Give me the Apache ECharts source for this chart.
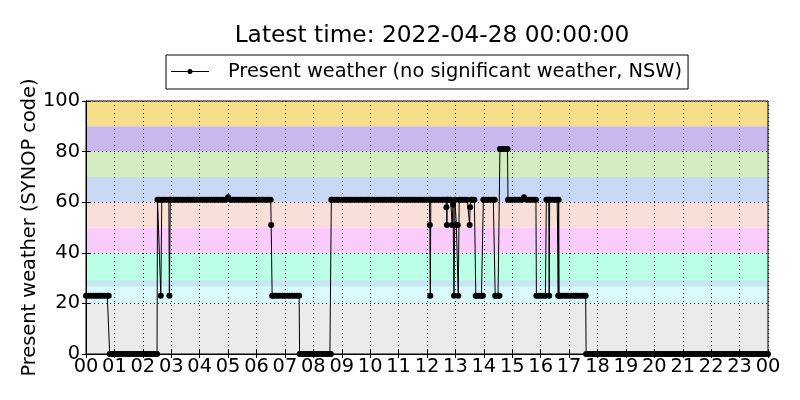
<!DOCTYPE html>
<html>
<head>
<meta charset="utf-8">
<script src="https://cdn.jsdelivr.net/npm/echarts@6/dist/echarts.min.js"></script>
<style>
html,body{margin:0;padding:0;background:#fff;}
#chart{width:800px;height:400px;}
</style>
</head>
<body>
<div id="chart"></div>
<script>
var titleText = "Latest time: 2022-04-28 00:00:00";
var seriesName = "Present weather (no significant weather, NSW)";
var yAxisName = "Present weather (SYNOP code)";
var yTicks = [0, 20, 40, 60, 80, 100];
var hourTicks = ["00","01","02","03","04","05","06","07","08","09","10","11","12","13","14","15","16","17","18","19","20","21","22","23","00"];

// SYNOP code bands [from, to]
var bandRanges = [[0,20],[20,26.6],[26.6,29.2],[29.2,40],[40,50],[50,60],[60,70],[70,80],[80,90],[90,100]];
var bandColors = ["#ebebeb","#d9f9fc","#c4eaf0","#bbffe6","#f9ccfc","#f8e0d8","#c9d8f5","#d3ecc0","#c9b8ee","#f7de8a"];

// present weather code read every 5 minutes (:00, :05, ... :55), one row per hour
var fiveMinuteCodes = [
/*00*/ [23,23,23,23,23,23,23,23,23,23,0,0],
/*01*/ [0,0,0,0,0,0,0,0,0,0,0,0],
/*02*/ [0,0,0,0,0,0,0,61,61,61,61,61],
/*03*/ [61,61,61,61,61,61,61,61,61,61,61,61],
/*04*/ [61,61,61,61,61,61,61,61,61,61,61,61],
/*05*/ [62,61,61,61,61,61,61,61,61,61,61,61],
/*06*/ [61,61,61,61,61,61,61,23,23,23,23,23],
/*07*/ [23,23,23,23,23,23,23,0,0,0,0,0],
/*08*/ [0,0,0,0,0,0,0,0,61,61,61,61],
/*09*/ [61,61,61,61,61,61,61,61,61,61,61,61],
/*10*/ [61,61,61,61,61,61,61,61,61,61,61,61],
/*11*/ [61,61,61,61,61,61,61,61,61,61,61,61],
/*12*/ [61,61,61,61,61,61,61,61,61,61,61,59],
/*13*/ [61,51,61,61,61,61,51,61,61,23,23,23],
/*14*/ [61,61,61,61,61,23,23,81,81,81,81,61],
/*15*/ [61,61,61,61,61,62,61,61,61,61,61,23],
/*16*/ [23,23,23,61,61,61,61,61,23,23,23,23],
/*17*/ [23,23,23,23,23,23,23,23,0,0,0,0],
/*18*/ [0,0,0,0,0,0,0,0,0,0,0,0],
/*19*/ [0,0,0,0,0,0,0,0,0,0,0,0],
/*20*/ [0,0,0,0,0,0,0,0,0,0,0,0],
/*21*/ [0,0,0,0,0,0,0,0,0,0,0,0],
/*22*/ [0,0,0,0,0,0,0,0,0,0,0,0],
/*23*/ [0,0,0,0,0,0,0,0,0,0,0,0]
];

// extra observations between the 5-minute readings: [time HH:MM, code]
var extraObs = [
["00:48",23],["02:31",61],["02:38",23],["02:56",23],["02:58",61],
["06:31",51],["06:33",23],["07:31",0],["08:37",0],["08:38",61],
["12:06",51],["12:07",23],["12:08",61],["12:41",58],["12:42",51],["12:43",61],
["12:53",51],["12:57",23],["12:59",61],["13:02",51],["13:06",23],["13:08",61],
["13:31",58],["13:33",61],["13:43",23],["13:58",23],["13:59",61],
["14:23",61],["14:24",23],["14:33",23],["14:34",81],["14:51",61],["15:51",23],
["16:12",61],["16:17",61],["16:18",23],["16:19",61],["16:37",23],["16:38",61],["16:39",23],
["17:36",0],["24:00",0]
];

function toHours(t){ var p = t.split(":"); return parseInt(p[0],10) + parseInt(p[1],10)/60; }
var lineData = [];
fiveMinuteCodes.forEach(function(row, h){
  row.forEach(function(v, k){ lineData.push([h + k*5/60, v]); });
});
extraObs.forEach(function(o){ lineData.push([toHours(o[0]), o[1]]); });
lineData.sort(function(a,b){ return a[0]-b[0]; });

var font = "DejaVu Sans";
var fs = 19.4;
var chart = echarts.init(document.getElementById("chart"), null, {renderer:"canvas"});

var bandAreas = bandRanges.map(function(r, i){
  return [{yAxis: r[0], itemStyle:{color: bandColors[i], opacity:1}}, {yAxis: r[1]}];
});

var dotted = {show:true, lineStyle:{color:"#000", width:1, type:[1,3], opacity:0.85}};

chart.setOption({
  animation:false,
  backgroundColor:"#fff",
  title:{text:titleText, left:427, top:19, textAlign:"center",
    textStyle:{fontFamily:font, fontSize:23.3, fontWeight:"normal", color:"#000"}},
  legend:{
    top:55, left:166, orient:"horizontal",
    padding:[7,6,8,5], itemGap:0, itemWidth:38, itemHeight:12,
    borderColor:"#000", borderWidth:1, borderRadius:0,
    textStyle:{fontFamily:font, fontSize:fs, color:"#000", padding:[0,0,0,14]},
    data:[{name:seriesName, icon:"path://M0,6 L38,6 L38,7 L0,7 Z M16.5,6.5 A2.5,2.5 0 1 1 21.5,6.5 A2.5,2.5 0 1 1 16.5,6.5 Z"}]
  },
  grid:{left:86, right:32, top:101, bottom:46, show:true, borderColor:"#000", borderWidth:1, backgroundColor:"transparent", z:4},
  xAxis:[{
    type:"value", min:0, max:24, interval:1, z:3,
    axisLine:{show:true, lineStyle:{color:"#000", width:1}},
    axisTick:{show:true, inside:true, length:4, lineStyle:{color:"#000"}},
    axisLabel:{fontFamily:font, fontSize:fs, color:"#000", margin:3,
      formatter:function(v){ return hourTicks[Math.round(v)]; }},
    splitLine:dotted
  },{
    type:"value", min:0, max:24, interval:1, position:"top", z:3,
    axisLine:{show:true, lineStyle:{color:"#000"}},
    axisTick:{show:true, inside:true, length:4, lineStyle:{color:"#000"}},
    axisLabel:{show:false}, splitLine:{show:false}
  }],
  yAxis:[{
    type:"value", min:0, max:100, interval:20, z:3,
    name:yAxisName, nameLocation:"middle", nameGap:47, nameMoveOverlap:false,
    nameTextStyle:{fontFamily:font, fontSize:fs, color:"#000"},
    axisLine:{show:true, lineStyle:{color:"#000", width:1}},
    axisTick:{show:true, inside:true, length:4, lineStyle:{color:"#000"}},
    axisLabel:{fontFamily:font, fontSize:fs, color:"#000", margin:6,
      formatter:function(v){ return yTicks.indexOf(v) >= 0 ? String(v) : ""; }},
    splitLine:dotted
  },{
    type:"value", min:0, max:100, interval:20, position:"right", z:3,
    axisLine:{show:true, lineStyle:{color:"#000"}},
    axisTick:{show:true, inside:true, length:4, lineStyle:{color:"#000"}},
    axisLabel:{show:false}, splitLine:{show:false}
  }],
  series:[{
    name:"bands", type:"line", data:[], z:1, silent:true,
    markArea:{silent:true, data:bandAreas}
  },{
    name:seriesName, type:"line", data:lineData, z:5,
    showSymbol:true, symbol:"circle", symbolSize:6,
    itemStyle:{color:"#000"},
    lineStyle:{color:"#000", width:1},
    emphasis:{disabled:true}
  }]
});
</script>
</body>
</html>
